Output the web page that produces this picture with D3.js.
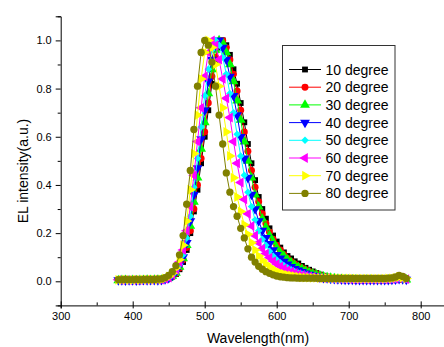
<!DOCTYPE html>
<html>
<head>
<meta charset="utf-8">
<script src="https://cdn.jsdelivr.net/npm/d3@7"></script>
<style>
  body { margin: 0; background: #fff; }
  svg { display: block; font-family: Arial, "Liberation Sans", sans-serif; }
  .axis path, .axis line { stroke: #000; }
  .axis text { font-size: 11px; fill: #000; }
</style>
</head>
<body>
<div id="layout"></div>
<script>
var outerWidth = 444,
    outerHeight = 347,
    plot = { left: 60.7, top: 16.3, bottom: 305.4 };

// wavelength grid (nm)
var wavelengths = [
  380,385,390,395,400,405,410,415,420,
  425,430,435,440,445,450,455,460,465,
  470,475,480,485,490,495,500,505,510,
  515,520,525,530,535,540,545,550,555,
  560,565,570,575,580,585,590,595,600,
  605,610,615,620,625,630,635,640,645,
  650,655,660,665,670,675,680,685,690,
  695,700,705,710,715,720,725,730,735,
  740,745,750,755,760,765,770,775,780
];

var deg10 = [
  0.004,0.005,0.004,0.005,0.004,0.005,0.005,0.004,0.005,
  0.005,0.006,0.005,0.006,0.008,0.012,0.020,0.030,0.050,
  0.080,0.130,0.200,0.290,0.380,0.490,0.600,0.710,0.820,
  0.910,0.970,1.000,0.980,0.940,0.880,0.820,0.740,0.660,
  0.570,0.490,0.420,0.350,0.300,0.260,0.220,0.190,0.165,
  0.140,0.120,0.105,0.095,0.083,0.074,0.064,0.056,0.048,
  0.041,0.034,0.028,0.023,0.019,0.016,0.013,0.011,0.009,
  0.008,0.007,0.007,0.006,0.006,0.006,0.005,0.005,0.005,
  0.005,0.005,0.005,0.005,0.006,0.006,0.008,0.008,0.006
];
var deg20 = [
  0.005,0.004,0.005,0.004,0.005,0.005,0.004,0.005,0.005,
  0.006,0.005,0.006,0.006,0.008,0.012,0.020,0.032,0.055,
  0.090,0.140,0.210,0.300,0.400,0.510,0.620,0.740,0.850,
  0.930,0.990,1.000,0.970,0.920,0.860,0.790,0.710,0.620,
  0.540,0.460,0.390,0.330,0.280,0.240,0.205,0.175,0.150,
  0.130,0.110,0.095,0.082,0.072,0.063,0.055,0.048,0.041,
  0.035,0.030,0.025,0.021,0.018,0.015,0.012,0.010,0.009,
  0.008,0.007,0.007,0.006,0.006,0.006,0.006,0.005,0.005,
  0.005,0.005,0.006,0.005,0.006,0.007,0.009,0.008,0.006
];
var deg30 = [
  0.004,0.005,0.005,0.004,0.005,0.004,0.005,0.005,0.006,
  0.005,0.006,0.006,0.006,0.008,0.013,0.022,0.035,0.060,
  0.095,0.150,0.230,0.330,0.430,0.550,0.660,0.780,0.880,
  0.960,1.000,0.990,0.950,0.900,0.830,0.750,0.670,0.580,
  0.500,0.430,0.360,0.310,0.260,0.225,0.190,0.165,0.140,
  0.120,0.105,0.090,0.078,0.068,0.059,0.051,0.044,0.038,
  0.032,0.027,0.023,0.019,0.016,0.014,0.012,0.010,0.009,
  0.008,0.007,0.007,0.007,0.006,0.006,0.006,0.006,0.005,
  0.005,0.006,0.005,0.006,0.006,0.007,0.009,0.009,0.007
];
var deg40 = [
  0.005,0.005,0.004,0.005,0.005,0.004,0.005,0.006,0.005,
  0.006,0.006,0.005,0.006,0.009,0.014,0.024,0.040,0.065,
  0.100,0.160,0.250,0.360,0.470,0.590,0.710,0.830,0.920,
  0.980,1.000,0.970,0.920,0.850,0.770,0.690,0.600,0.510,
  0.430,0.360,0.300,0.250,0.210,0.180,0.155,0.130,0.110,
  0.095,0.082,0.070,0.060,0.052,0.045,0.039,0.033,0.028,
  0.024,0.020,0.017,0.015,0.013,0.011,0.010,0.009,0.008,
  0.007,0.007,0.007,0.006,0.006,0.006,0.006,0.006,0.006,
  0.006,0.006,0.006,0.006,0.007,0.008,0.010,0.009,0.007
];
var deg50 = [
  0.005,0.006,0.005,0.005,0.004,0.005,0.006,0.005,0.005,
  0.006,0.006,0.006,0.006,0.010,0.015,0.026,0.043,0.070,
  0.110,0.180,0.270,0.390,0.510,0.640,0.770,0.880,0.960,
  1.000,0.980,0.930,0.860,0.780,0.700,0.610,0.520,0.440,
  0.370,0.310,0.255,0.210,0.175,0.150,0.125,0.105,0.090,
  0.077,0.066,0.056,0.048,0.041,0.035,0.030,0.026,0.022,
  0.019,0.016,0.014,0.012,0.011,0.010,0.009,0.008,0.008,
  0.007,0.007,0.007,0.007,0.006,0.007,0.006,0.007,0.006,
  0.006,0.007,0.006,0.007,0.007,0.009,0.011,0.010,0.008
];
var deg60 = [
  0.006,0.005,0.006,0.005,0.006,0.005,0.005,0.006,0.006,
  0.006,0.007,0.006,0.006,0.010,0.016,0.028,0.047,0.080,
  0.130,0.210,0.310,0.440,0.580,0.720,0.850,0.950,1.000,
  0.980,0.920,0.840,0.760,0.680,0.580,0.490,0.410,0.340,
  0.280,0.230,0.190,0.160,0.135,0.115,0.098,0.084,0.072,
  0.062,0.053,0.046,0.040,0.035,0.030,0.026,0.023,0.020,
  0.018,0.016,0.014,0.013,0.012,0.011,0.010,0.010,0.009,
  0.009,0.009,0.008,0.008,0.008,0.008,0.008,0.008,0.008,
  0.008,0.008,0.008,0.008,0.009,0.010,0.013,0.012,0.009
];
var deg70 = [
  0.006,0.006,0.007,0.006,0.006,0.007,0.006,0.007,0.007,
  0.007,0.007,0.007,0.008,0.012,0.020,0.033,0.055,0.090,
  0.150,0.250,0.380,0.530,0.690,0.840,0.950,1.000,0.970,
  0.900,0.810,0.720,0.620,0.520,0.430,0.350,0.290,0.235,
  0.195,0.160,0.130,0.105,0.087,0.072,0.060,0.050,0.042,
  0.036,0.031,0.027,0.024,0.021,0.019,0.017,0.016,0.015,
  0.014,0.014,0.013,0.013,0.013,0.012,0.012,0.012,0.012,
  0.012,0.012,0.012,0.011,0.011,0.011,0.011,0.011,0.011,
  0.011,0.011,0.011,0.012,0.012,0.014,0.018,0.016,0.012
];
var deg80 = [
  0.007,0.007,0.008,0.007,0.007,0.008,0.007,0.008,0.008,
  0.008,0.008,0.009,0.010,0.015,0.025,0.040,0.065,0.110,
  0.190,0.320,0.460,0.630,0.810,0.950,1.000,0.980,0.910,
  0.810,0.690,0.570,0.450,0.370,0.310,0.270,0.220,0.180,
  0.135,0.100,0.080,0.062,0.050,0.040,0.033,0.027,0.022,
  0.019,0.017,0.015,0.014,0.014,0.013,0.013,0.013,0.013,
  0.013,0.013,0.012,0.012,0.012,0.012,0.012,0.012,0.012,
  0.012,0.012,0.012,0.012,0.012,0.012,0.012,0.012,0.012,
  0.012,0.012,0.012,0.013,0.014,0.018,0.025,0.020,0.012
];

var seriesNames = ["10 degree","20 degree","30 degree","40 degree","50 degree","60 degree","70 degree","80 degree"];
var seriesValues = [deg10, deg20, deg30, deg40, deg50, deg60, deg70, deg80];
var seriesColors = ["#000000","#ff0000","#00ff00","#0000ff","#00ffff","#ff00ff","#ffff00","#808000"];

var xTicks = [300, 400, 500, 600, 700, 800];
var xMinorTicks = [350, 450, 550, 650, 750, 850];
var yTicks = [0.0, 0.2, 0.4, 0.6, 0.8, 1.0];
var yMinorTicks = [-0.1, 0.1, 0.3, 0.5, 0.7, 0.9, 1.1];

// marker shapes: type + rotation
var markers = [
  { type: d3.symbolSquare, size: 34, rot: 0 },
  { type: d3.symbolCircle, size: 38, rot: 0 },
  { type: d3.symbolTriangle, size: 42, rot: 0 },
  { type: d3.symbolTriangle, size: 42, rot: 180 },
  { type: d3.symbolSquare, size: 28, rot: 45 },
  { type: d3.symbolTriangle, size: 42, rot: -90 },
  { type: d3.symbolTriangle, size: 42, rot: 90 },
  { type: d3.symbolCircle, size: 42, rot: 0 }
];

drawChart = () => {
    const svg = d3.select("#layout")
                  .append("svg")
                  .attr("width", outerWidth)
                  .attr("height", outerHeight);

    var xScale = d3.scaleLinear()
                   .domain([300, 850])
                   .range([plot.left, plot.left + 0.72 * 550]);

    var yScale = d3.scaleLinear()
                   .domain([-0.1, 1.1])
                   .range([plot.bottom, plot.top]);

    // X axis (major + minor)
    svg.append("g")
       .attr("class", "axis")
       .attr("transform", "translate(0," + plot.bottom + ")")
       .call(d3.axisBottom(xScale).tickValues(xMinorTicks).tickSize(-3).tickFormat(""))
       .call(g => g.select(".domain").remove());

    const xAxis = svg.append("g")
       .attr("class", "axis")
       .attr("transform", "translate(0," + plot.bottom + ")")
       .call(d3.axisBottom(xScale).tickValues(xTicks).tickSizeOuter(0).tickSize(3).tickPadding(4).tickFormat(d3.format("d")));
    xAxis.selectAll(".tick line").attr("y1", -4);

    // Y axis (major + minor)
    svg.append("g")
       .attr("class", "axis")
       .attr("transform", "translate(" + plot.left + ",0)")
       .call(d3.axisLeft(yScale).tickValues(yMinorTicks).tickSize(3).tickFormat(""))
       .call(g => g.select(".domain").remove());

    svg.append("g")
       .attr("class", "axis")
       .attr("transform", "translate(" + plot.left + ",0)")
       .call(d3.axisLeft(yScale).tickValues(yTicks).tickSizeOuter(0).tickSize(5).tickPadding(4).tickFormat(d3.format(".1f")));

    const line = d3.line()
                   .x((d, i) => xScale(wavelengths[i]))
                   .y(d => yScale(d));

    // Curves, 10 degree first so 80 degree lands on top
    seriesValues.forEach((values, s) => {
        const g = svg.append("g").attr("class", "series");
        g.append("path")
         .attr("d", line(values))
         .attr("fill", "none")
         .attr("stroke", seriesColors[s])
         .attr("stroke-width", 1);

        const sym = d3.symbol().type(markers[s].type).size(markers[s].size);
        g.selectAll("path.pt")
         .data(values)
         .enter()
         .append("path")
         .attr("class", "pt")
         .attr("d", sym)
         .attr("transform", (d, i) => "translate(" + xScale(wavelengths[i]) + "," + yScale(d) + ") rotate(" + markers[s].rot + ")")
         .attr("fill", seriesColors[s]);
    });

    // Legend
    const legend = svg.append("g").attr("id", "legend");
    legend.append("rect")
          .attr("x", 282.5)
          .attr("y", 45.5)
          .attr("width", 112.5)
          .attr("height", 164.5)
          .attr("fill", "#fff")
          .attr("stroke", "#333")
          .attr("stroke-width", 1);

    seriesNames.forEach((name, s) => {
        const y = 69.5 + s * 17.7;
        legend.append("line")
              .attr("x1", 289).attr("x2", 321)
              .attr("y1", y).attr("y2", y)
              .attr("stroke", seriesColors[s])
              .attr("stroke-width", 1);
        legend.append("path")
              .attr("d", d3.symbol().type(markers[s].type).size(markers[s].size)())
              .attr("transform", "translate(305," + y + ") rotate(" + markers[s].rot + ")")
              .attr("fill", seriesColors[s]);
        legend.append("text")
              .attr("x", 325.5)
              .attr("y", y + 5)
              .attr("font-size", "14px")
              .text(name);
    });

    // Axis labels
    svg.append("text")
       .attr("text-anchor", "middle")
       .attr("transform", "translate(27.5,171) rotate(-90)")
       .attr("font-size", "14px")
       .text("EL intensity(a.u.)");

    svg.append("text")
       .attr("text-anchor", "middle")
       .attr("x", 258)
       .attr("y", 343)
       .attr("font-size", "14px")
       .text("Wavelength(nm)");
}

drawChart();
</script>
</body>
</html>
